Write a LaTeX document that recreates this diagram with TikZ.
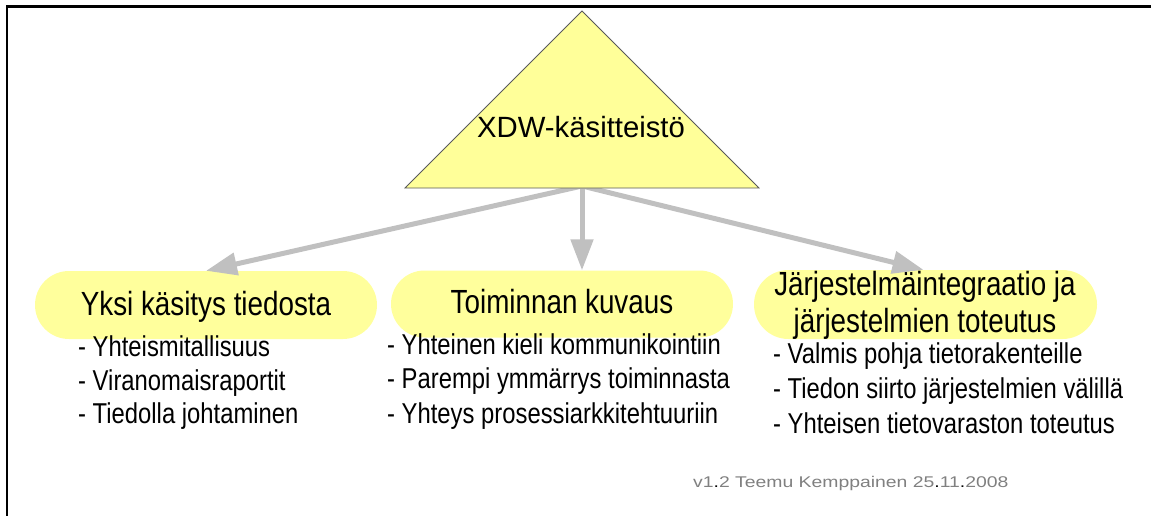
\documentclass[tikz,border=0pt]{standalone}
\usepackage{fontspec}
\setmainfont{Liberation Sans}
\newfontfamily\narrowf[FakeStretch=0.83]{Liberation Sans}
\newfontfamily\widef[FakeStretch=1.25]{Liberation Sans}
\usetikzlibrary{arrows.meta,shapes.misc}
\definecolor{triyellow}{HTML}{FFFF99}
\definecolor{boxyellow}{HTML}{FFFF9C}
\definecolor{arrgray}{HTML}{C0C0C0}
\definecolor{vergray}{HTML}{808080}
\tikzset{
  pill/.style={rounded rectangle, fill=boxyellow, draw=none, inner sep=0pt},
  boxtitle/.style={inner sep=0pt, anchor=base, font=\narrowf\fontsize{33.5}{40}\selectfont},
  bullet/.style={inner sep=0pt, anchor=base west, font=\narrowf\fontsize{28.7}{34}\selectfont},
  arr/.style={draw=arrgray, line width=5pt, -{Triangle[length=31pt,width=22pt]}},
}
\begin{document}
\begin{tikzpicture}[x=1pt,y=-1pt]
\useasboundingbox (0,0) rectangle (1151,516);
% frame
\draw[line width=2.2pt] (7,516) -- (7,6.5) -- (1151,6.5);
% boxes
\node[pill, minimum width=342pt, minimum height=68pt] (b1) at (206,305) {};
\node[pill, minimum width=342pt, minimum height=67pt] (b2) at (562,304) {};
\node[pill, minimum width=343pt, minimum height=69pt] (b3) at (925.5,304.5) {};
% arrows
\coordinate (top) at (582,186);
\draw[arr] (top) -- (b1.north);
\draw[arr] (top) -- (top |- b2.north);
\draw[arr] (top) -- ([xshift=-2pt]b3.north);
% triangle
\draw[fill=triyellow, draw=black!65, line width=0.8pt] (582,11) -- (759,188) -- (405,188) -- cycle;
\node[inner sep=0pt, anchor=base, font=\fontsize{29.3}{35}\selectfont] (tri) at (581,138) {XDW-käsitteistö};
% titles
\node[boxtitle] (t1) at (206,315) {Yksi käsitys tiedosta};
\node[boxtitle] (t2) at (562,313) {Toiminnan kuvaus};
\node[boxtitle] (t3a) at (925,295) {Järjestelmäintegraatio ja};
\node[boxtitle] (t3b) at (925,332) {järjestelmien toteutus};
% bullets
\node[bullet] (l11) at (78,356) {- Yhteismitallisuus};
\node[bullet] (l12) at (78,390) {- Viranomaisraportit};
\node[bullet] (l13) at (78,423) {- Tiedolla johtaminen};
\node[bullet] (l21) at (387,354) {- Yhteinen kieli kommunikointiin};
\node[bullet] (l22) at (387,388) {- Parempi ymmärrys toiminnasta};
\node[bullet] (l23) at (387,423) {- Yhteys prosessiarkkitehtuuriin};
\node[bullet] (l31) at (773,363) {- Valmis pohja tietorakenteille};
\node[bullet] (l32) at (773,398) {- Tiedon siirto järjestelmien välillä};
\node[bullet] (l33) at (773,433) {- Yhteisen tietovaraston toteutus};
% version
\node[inner sep=0pt, anchor=base west, text=vergray, font=\widef\fontsize{15.5}{18}\selectfont] (ver) at (693,487)
  {v1{\color{black}.}2 Teemu Kemppainen 25{\color{black}.}11{\color{black}.}2008};
\end{tikzpicture}
\end{document}
